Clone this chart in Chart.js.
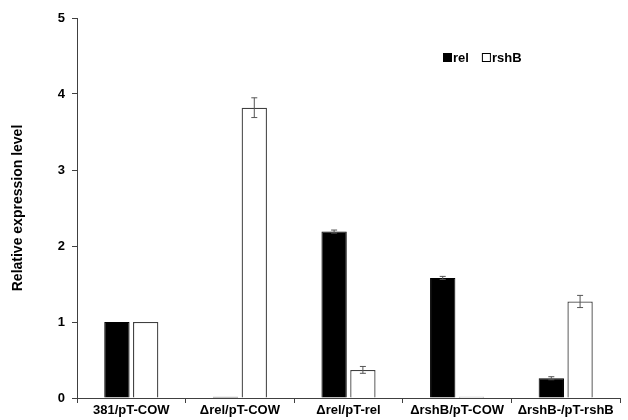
<!DOCTYPE html>
<html>
<head>
<meta charset="utf-8">
<script src="https://cdn.jsdelivr.net/npm/chart.js@4.4.0/dist/chart.umd.min.js"></script>
<style>
html,body{margin:0;padding:0;background:#fff;}
#wrap{width:628px;height:420px;position:relative;}
</style>
</head>
<body>
<div id="wrap"><canvas id="c" width="628" height="420"></canvas></div>
<script>
const categories = ["381/pT-COW", "\u0394rel/pT-COW", "\u0394rel/pT-rel", "\u0394rshB/pT-COW", "\u0394rshB-/pT-rshB"];
const relValues = [1.0, 0.015, 2.19, 1.58, 0.26];
const relErrors = [0, 0, 0.02, 0.02, 0.02];
const rshBValues = [1.0, 3.82, 0.37, 0.015, 1.27];
const rshBErrors = [0, 0.13, 0.045, 0, 0.08];
const yTicks = [0, 1, 2, 3, 4, 5];
const seriesNames = ["rel", "rshB"];

const FONT = "Arial, 'Liberation Sans', sans-serif";
const AXIS = '#404040';

const errorBarPlugin = {
  id: 'errorBars',
  afterDatasetsDraw(chart) {
    const ctx = chart.ctx;
    const y = chart.scales.y;
    chart.data.datasets.forEach((ds, i) => {
      const meta = chart.getDatasetMeta(i);
      meta.data.forEach((el, j) => {
        const e = ds.errors[j];
        if (!e) return;
        const v = ds.data[j];
        const yt = y.getPixelForValue(v + e);
        const yb = y.getPixelForValue(v - e);
        ctx.save();
        ctx.strokeStyle = '#555';
        ctx.lineWidth = 1;
        ctx.beginPath();
        ctx.moveTo(el.x, yt); ctx.lineTo(el.x, yb);
        ctx.moveTo(el.x - 3, yt); ctx.lineTo(el.x + 3, yt);
        ctx.moveTo(el.x - 3, yb); ctx.lineTo(el.x + 3, yb);
        ctx.stroke();
        ctx.restore();
      });
    });
  }
};

const legendPlugin = {
  id: 'customLegend',
  afterDraw(chart) {
    const ctx = chart.ctx;
    ctx.save();
    ctx.font = "bold 13px " + FONT;
    ctx.textBaseline = 'middle';
    let x = 443;
    const yc = 58;
    chart.data.datasets.forEach((ds) => {
      ctx.fillStyle = ds.backgroundColor;
      ctx.fillRect(x + 0.5, yc - 4.5, 8, 8);
      ctx.strokeStyle = '#000';
      ctx.lineWidth = 1;
      ctx.strokeRect(x + 0.5, yc - 4.5, 8, 8);
      ctx.fillStyle = '#000';
      ctx.fillText(ds.label, x + 10, yc);
      x += 10 + ctx.measureText(ds.label).width + 13;
    });
    ctx.restore();
  }
};

new Chart(document.getElementById('c'), {
  type: 'bar',
  data: {
    labels: categories,
    datasets: [
      { label: seriesNames[0], data: relValues, errors: relErrors, backgroundColor: '#000', borderColor: '#000', borderWidth: 1 },
      { label: seriesNames[1], data: rshBValues, errors: rshBErrors, backgroundColor: '#fff', borderColor: AXIS, borderWidth: 1.3 }
    ]
  },
  options: {
    responsive: false,
    animation: false,
    devicePixelRatio: 1,
    layout: { padding: { left: 0, right: 8, top: 18, bottom: 0 } },
    datasets: { bar: { categoryPercentage: 0.53, barPercentage: 0.88 } },
    plugins: { legend: { display: false }, tooltip: { enabled: false } },
    scales: {
      x: {
        offset: true,
        grid: { display: true, drawOnChartArea: false, drawTicks: true, tickLength: 5, color: AXIS, offset: true },
        border: { color: AXIS, width: 1 },
        ticks: { color: '#000', font: { family: FONT, size: 13, weight: 'bold' }, padding: 0, maxRotation: 0, autoSkip: false },
        afterFit(s) { s.height = 22; }
      },
      y: {
        min: 0, max: 5,
        afterBuildTicks(s) { s.ticks = yTicks.map(v => ({ value: v })); },
        grid: { display: true, drawOnChartArea: false, drawTicks: true, tickLength: 5, color: AXIS },
        border: { color: AXIS, width: 1 },
        ticks: { color: '#000', font: { family: FONT, size: 13, weight: 'bold' }, padding: 7 },
        title: { display: true, text: 'Relative expression level', color: '#000', font: { family: FONT, size: 14, weight: 'bold' }, padding: { top: 10, bottom: 4 } },
        afterFit(s) { s.width = 77; }
      }
    }
  },
  plugins: [errorBarPlugin, legendPlugin]
});
</script>
</body>
</html>
